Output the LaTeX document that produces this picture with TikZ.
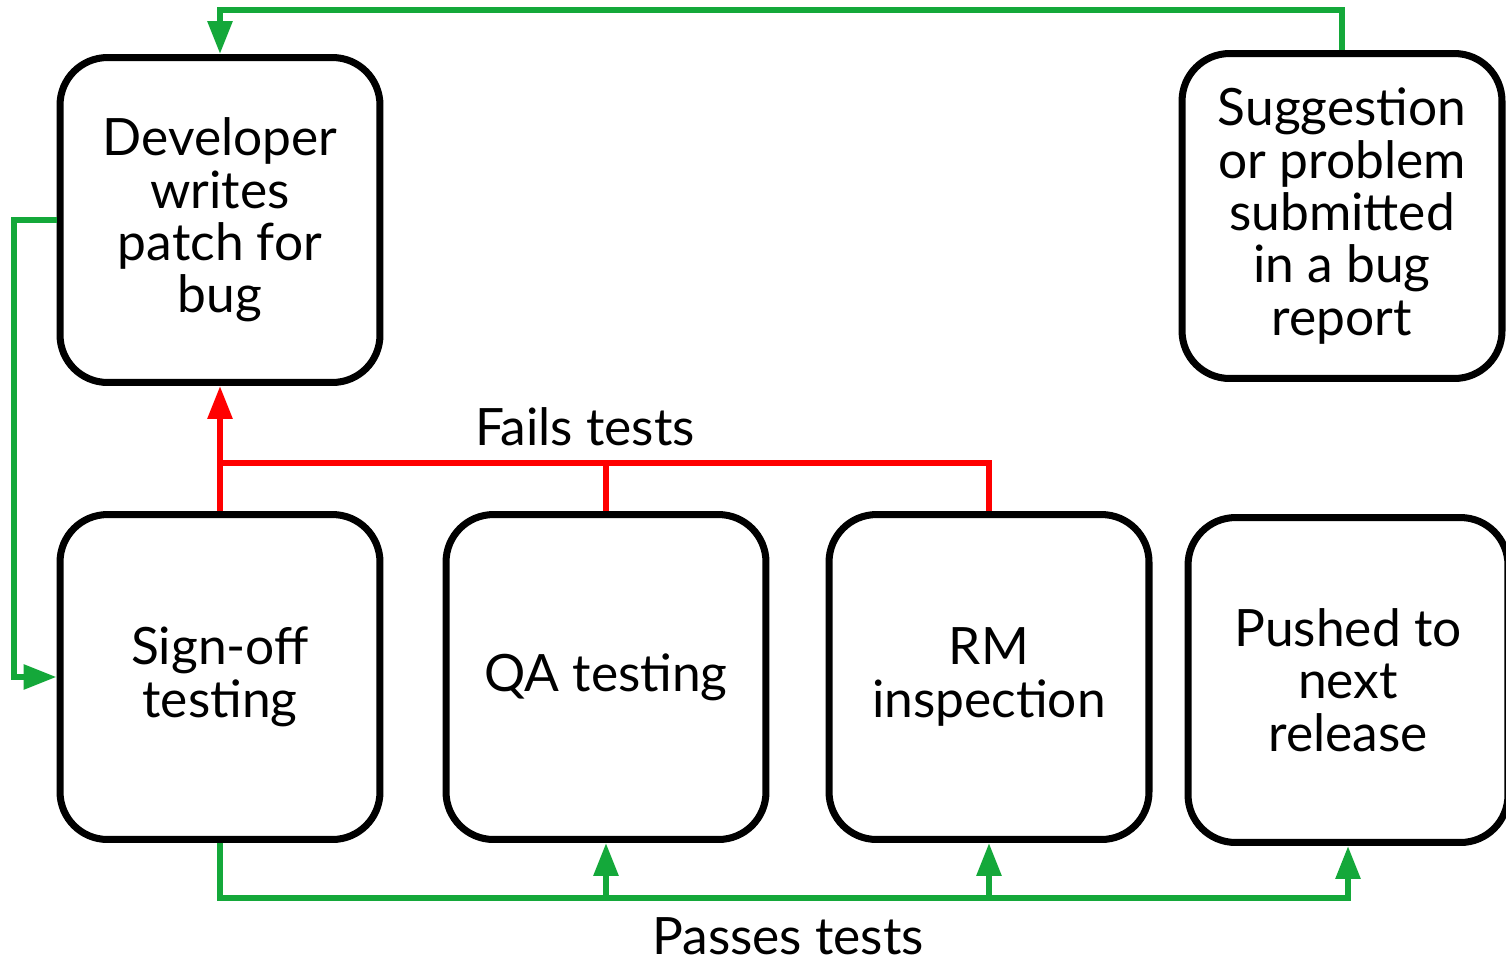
\documentclass[tikz,border=0pt]{standalone}
\usepackage{fontspec}
\setmainfont{Lato}
\usetikzlibrary{arrows.meta}

\definecolor{passgreen}{RGB}{20,168,58}
\definecolor{failred}{RGB}{255,0,0}

\begin{document}
\begin{tikzpicture}[x=0.02cm, y=-0.02cm, every node/.style={font=\fontsize{29.3}{29.8}\selectfont}]
\tikzset{
  stagebox/.style={draw, line width=4pt, rounded corners=0.95cm, minimum width=6.4cm, minimum height=6.5cm, align=center, inner sep=0pt},
  passline/.style={draw=passgreen, line width=3.4pt, -{Triangle[length=0.66cm, width=0.48cm]}},
  failline/.style={draw=failred, line width=3.4pt, -{Triangle[length=0.66cm, width=0.48cm]}}
}
\useasboundingbox (0,0) rectangle (1506,967);

% Boxes
\node[stagebox] (dev) at (220,220) {Developer\\writes\\patch for\\bug};
\node[stagebox] (report) at (1342,216) {Suggestion\\or problem\\submitted\\in a bug\\report};
\node[stagebox] (signoff) at (220,677) {Sign-off\\testing};
\node[stagebox] (qa) at (606,677) {QA testing};
\node[stagebox] (rm) at (989,677) {RM\\inspection};
\node[stagebox] (pushed) at (1348,680) {Pushed to\\next\\release};

% Rails
\coordinate (toprail) at (0,10);
\coordinate (leftrail) at (14,0);
\coordinate (failrail) at (0,463);
\coordinate (bottomrail) at (0,898);

% Green arrows
\draw[passline] (report.north) -- (report.north |- toprail) -| (dev.north);
\draw[passline] (dev.west) -- (dev.west -| leftrail) |- (signoff.west);
\draw[passline] (signoff.south) -- (signoff.south |- bottomrail) -| (pushed.south);
\draw[passline] (qa.south |- bottomrail) -- (qa.south);
\draw[passline] (rm.south |- bottomrail) -- (rm.south);

% Red arrows
\draw[failline] (signoff.north) -- (dev.south);
\draw[failline, -] (qa.north) |- (signoff.north |- failrail);
\draw[failline, -] (rm.north) |- (signoff.north |- failrail);

% Labels
\node (failslabel) at (585,427) {Fails tests};
\node (passeslabel) at (788,936) {Passes tests};
\end{tikzpicture}
\end{document}
